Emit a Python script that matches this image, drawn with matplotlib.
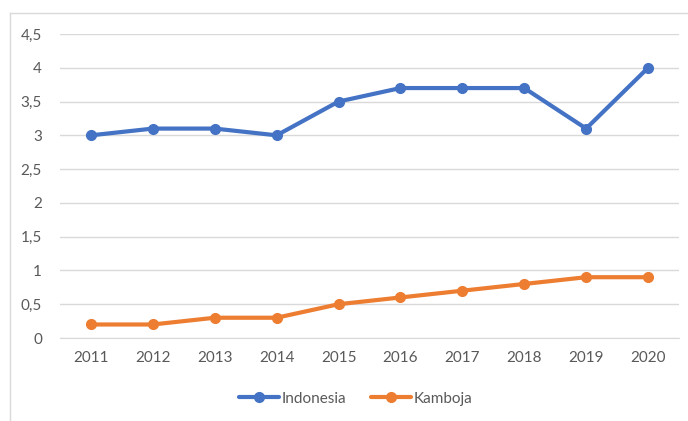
import matplotlib.pyplot as plt
from matplotlib.lines import Line2D

years = ["2011", "2012", "2013", "2014", "2015", "2016", "2017", "2018", "2019", "2020"]
indonesia = [3.0, 3.1, 3.1, 3.0, 3.5, 3.7, 3.7, 3.7, 3.1, 4.0]
kamboja = [0.2, 0.2, 0.3, 0.3, 0.5, 0.6, 0.7, 0.8, 0.9, 0.9]
y_ticks = [0, 0.5, 1, 1.5, 2, 2.5, 3, 3.5, 4, 4.5]
y_labels = ["0", "0,5", "1", "1,5", "2", "2,5", "3", "3,5", "4", "4,5"]

plt.rcParams["font.family"] = ["Lato", "DejaVu Sans"]
text_col = "#595959"
W, H = 688, 421

fig = plt.figure(figsize=(W / 100, H / 100), dpi=100)
ax = fig.add_axes([60 / W, 1 - 338 / H, (679 - 60) / W, (338 - 34) / H])

# chart border (left and top visible)
fig.add_artist(Line2D([10 / W, 10 / W], [0, 1 - 12.5 / H], color="#d9d9d9", lw=1,
                      transform=fig.transFigure))
fig.add_artist(Line2D([10 / W, 1], [1 - 12.5 / H, 1 - 12.5 / H], color="#d9d9d9", lw=1,
                      transform=fig.transFigure))

x = list(range(len(years)))
ax.plot(x, indonesia, color="#4472C4", lw=3, marker="o", ms=7, label="Indonesia",
        solid_capstyle="round", zorder=3)
ax.plot(x, kamboja, color="#ED7D31", lw=3, marker="o", ms=7, label="Kamboja",
        solid_capstyle="round", zorder=3)

ax.set_xlim(-0.5, len(years) - 0.5)
ax.set_ylim(0, 4.5)
ax.set_yticks(y_ticks)
ax.set_yticklabels(y_labels)
ax.set_xticks(x)
ax.set_xticklabels(years)
ax.grid(axis="y", color="#d9d9d9", lw=1)
ax.set_axisbelow(True)
for s in ["top", "right", "left"]:
    ax.spines[s].set_visible(False)
ax.spines["bottom"].set_color("#d9d9d9")
ax.tick_params(length=0, labelsize=11, colors=text_col)
ax.tick_params(axis="y", pad=13)
ax.tick_params(axis="x", pad=9)

ax.legend(loc="center", bbox_to_anchor=(0.478, -0.2), ncol=2, frameon=False,
          fontsize=11, labelcolor=text_col, handlelength=2.6, handletextpad=0.2,
          columnspacing=1.6)

fig.savefig("out.png", dpi=100)
